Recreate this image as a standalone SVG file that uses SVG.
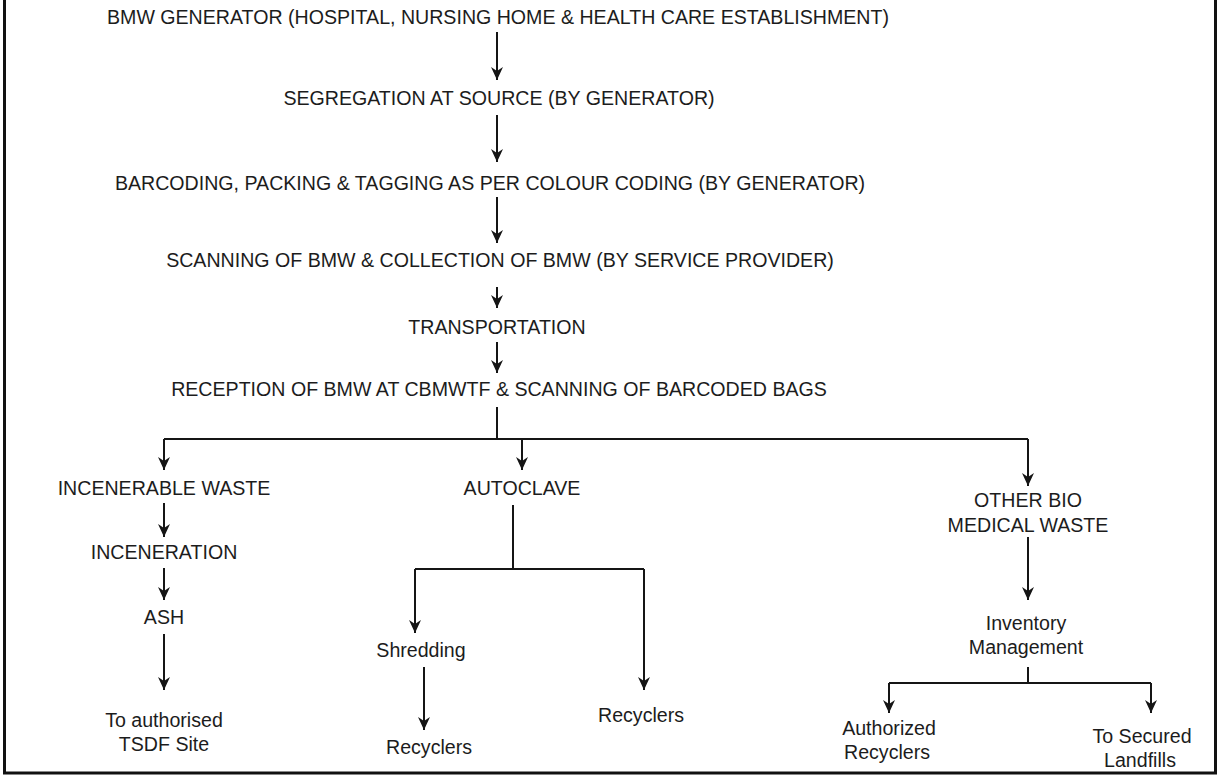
<svg xmlns="http://www.w3.org/2000/svg" width="1219" height="775" viewBox="0 0 1219 775">
<style>
text{font-family:"Liberation Sans",Arial,sans-serif;font-size:19.6px;fill:#1c1c1c;text-anchor:middle}
.c{fill:none;stroke:#151515;stroke-width:2}
.a{marker-end:url(#arr)}
</style>
<defs>
<marker id="arr" markerUnits="userSpaceOnUse" markerWidth="14" markerHeight="14" viewBox="0 0 14 14" refX="7" refY="13" orient="0">
<path d="M1,0 L7,13 L13,0 L7,4 Z" fill="#151515"/>
</marker>
</defs>
<rect x="0" y="0" width="1219" height="775" fill="#fff"/>
<rect x="4.5" y="-10" width="1211" height="783" fill="none" stroke="#111" stroke-width="3"/>
<g id="connectors">
<path class="c a" d="M497,32 V80"/>
<path class="c a" d="M497,115 V162"/>
<path class="c a" d="M497,197 V243"/>
<path class="c a" d="M497,287 V308"/>
<path class="c a" d="M497,342 V373"/>
<path class="c" d="M497,407 V439 M164,439 H1028"/>
<path class="c a" d="M164,439 V470"/>
<path class="c a" d="M522,439 V470"/>
<path class="c a" d="M1028,439 V486"/>
<path class="c a" d="M164,503 V537"/>
<path class="c a" d="M164,568 V600"/>
<path class="c a" d="M164,634 V690"/>
<path class="c" d="M513,505 V569 M415,569 H644"/>
<path class="c a" d="M415,569 V633"/>
<path class="c a" d="M644,569 V690"/>
<path class="c a" d="M424,667 V730"/>
<path class="c a" d="M1028,537 V600"/>
<path class="c" d="M1028,667 V683 M889,683 H1151"/>
<path class="c a" d="M889,683 V713"/>
<path class="c a" d="M1151,683 V713"/>
</g>
<g id="n1"><text x="498" y="24">BMW GENERATOR (HOSPITAL, NURSING HOME &amp; HEALTH CARE ESTABLISHMENT)</text></g>
<g id="n2"><text x="499" y="105">SEGREGATION AT SOURCE (BY GENERATOR)</text></g>
<g id="n3"><text x="490" y="190">BARCODING, PACKING &amp; TAGGING AS PER COLOUR CODING (BY GENERATOR)</text></g>
<g id="n4"><text x="500" y="267">SCANNING OF BMW &amp; COLLECTION OF BMW (BY SERVICE PROVIDER)</text></g>
<g id="n5"><text x="497" y="334">TRANSPORTATION</text></g>
<g id="n6"><text x="499" y="396">RECEPTION OF BMW AT CBMWTF &amp; SCANNING OF BARCODED BAGS</text></g>
<g id="n7"><text x="164" y="495">INCENERABLE WASTE</text></g>
<g id="n8"><text x="522" y="495">AUTOCLAVE</text></g>
<g id="n9"><text x="1028" y="507">OTHER BIO</text><text x="1028" y="532">MEDICAL WASTE</text></g>
<g id="n10"><text x="164" y="559">INCENERATION</text></g>
<g id="n11"><text x="164" y="624">ASH</text></g>
<g id="n12"><text x="164" y="727">To authorised</text><text x="164" y="751">TSDF Site</text></g>
<g id="n13"><text x="421" y="657">Shredding</text></g>
<g id="n14"><text x="429" y="754">Recyclers</text></g>
<g id="n15"><text x="641" y="722">Recyclers</text></g>
<g id="n16"><text x="1026" y="630">Inventory</text><text x="1026" y="654">Management</text></g>
<g id="n17"><text x="889" y="735">Authorized</text><text x="887" y="759">Recyclers</text></g>
<g id="n18"><text x="1142" y="743">To Secured</text><text x="1140" y="767">Landfills</text></g>
</svg>
